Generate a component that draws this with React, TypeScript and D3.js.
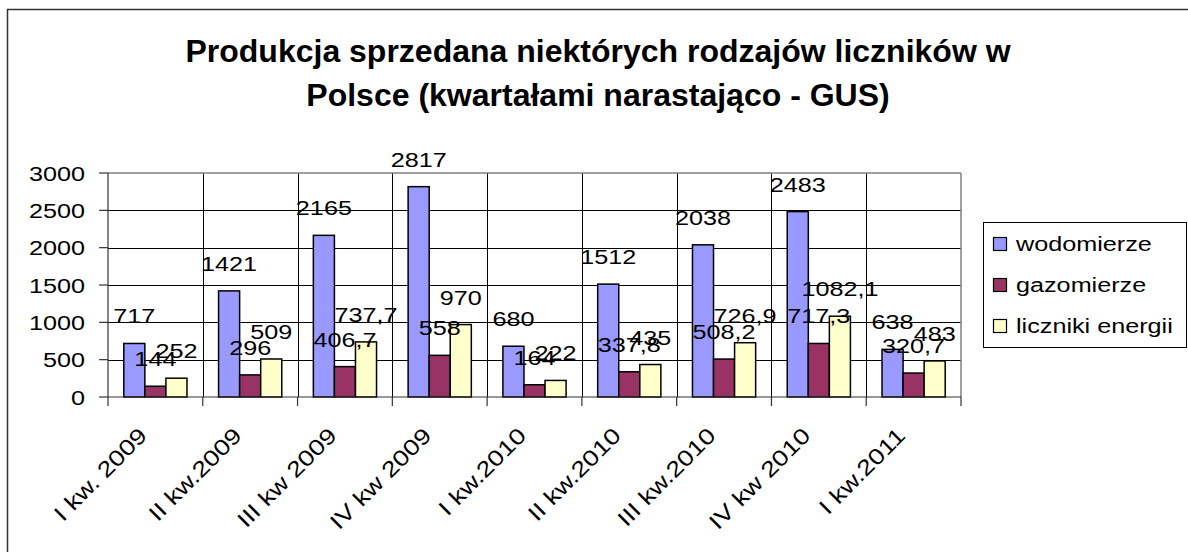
import React from 'react';
import * as d3 from 'd3';

const categories = [
  'I kw. 2009', 'II kw.2009', 'III kw 2009', 'IV kw 2009', 'I kw.2010',
  'II kw.2010', 'III kw.2010', 'IV kw 2010', 'I kw.2011',
];
const wodomierze = [717, 1421, 2165, 2817, 680, 1512, 2038, 2483, 638];
const gazomierze = [144, 296, 406.7, 558, 164, 337.8, 508.2, 717.3, 320.7];
const licznikiEnergii = [252, 509, 737.7, 970, 222, 435, 726.9, 1082.1, 483];
const seriesNames = ['wodomierze', 'gazomierze', 'liczniki energii'];
const seriesColors = ['#9999FF', '#993366', '#FFFFCC'];
const yTicks = [0, 500, 1000, 1500, 2000, 2500, 3000];
const titleLines = [
  'Produkcja sprzedana niektórych rodzajów liczników w',
  'Polsce (kwartałami narastająco - GUS)',
];

const FONT = '"Liberation Sans", Arial, sans-serif';
const SX = 1.2; // text in the original renders wide

const fmt = (v: number) => (Number.isInteger(v) ? String(v) : String(v).replace('.', ','));

export default function App() {
  const W = 1188;
  const H = 552;
  const left = 108, right = 961, top = 173, bottom = 397;

  const x = d3.scaleBand<string>().domain(categories).range([left, right]).padding(0);
  const inner = d3.scaleBand<string>()
    .domain(seriesNames)
    .range([0, x.bandwidth()])
    .paddingInner(0)
    .paddingOuter(0.75);
  const y = d3.scaleLinear().domain([0, 3000]).range([bottom, top]);

  const series = [wodomierze, gazomierze, licznikiEnergii];
  const boundaries = categories.map((c) => x(c)!).concat([right]);

  return (
    <svg
      width={W}
      height={H}
      style={{ position: 'absolute', left: 0, top: 0, display: 'block', background: '#fff' }}
      fontFamily={FONT}
    >
      {/* chart frame */}
      <rect x={7.5} y={9.5} width={1300} height={700} fill="#fff" stroke="#333" strokeWidth={1.5} />

      {titleLines.map((t, i) => (
        <text key={i} x={598} y={62 + i * 44} textAnchor="middle" fontSize={32} fontWeight="bold" fill="#000">
          {t}
        </text>
      ))}

      {/* gridlines */}
      <g stroke="#000" strokeWidth={1}>
        {yTicks.slice(1, -1).map((t) => (
          <line key={t} x1={left} x2={right} y1={Math.round(y(t)) + 0.5} y2={Math.round(y(t)) + 0.5} />
        ))}
        {boundaries.slice(1, -1).map((b, i) => (
          <line key={i} x1={Math.round(b) + 0.5} x2={Math.round(b) + 0.5} y1={top} y2={bottom} />
        ))}
      </g>
      {/* plot border top/right */}
      <g stroke="#808080" strokeWidth={1.5} fill="none">
        <line x1={left} x2={right} y1={top} y2={top} />
        <line x1={right} x2={right} y1={top} y2={bottom} />
      </g>

      {/* bars */}
      {series.map((vals, si) => (
        <g key={si} fill={seriesColors[si]} stroke="#000" strokeWidth={1.5}>
          {vals.map((v, ci) => {
            const bx = x(categories[ci])! + inner(seriesNames[si])!;
            return (
              <rect key={ci} x={bx} y={y(v)} width={inner.bandwidth()} height={bottom - y(v)} />
            );
          })}
        </g>
      ))}

      {/* axes */}
      <g stroke="#333" strokeWidth={1.2}>
        <line x1={left} x2={left} y1={top} y2={bottom} />
        <line x1={left} x2={right} y1={bottom} y2={bottom} />
        {yTicks.map((t) => (
          <line key={t} x1={left - 9} x2={left} y1={y(t)} y2={y(t)} />
        ))}
        {boundaries.map((b, i) => (
          <line key={i} x1={b} x2={b} y1={bottom} y2={bottom + 9} />
        ))}
      </g>
      {yTicks.map((t) => (
        <text key={t} transform={`translate(85,${y(t) + 7.5}) scale(${SX},1)`} textAnchor="end" fontSize={21} fill="#000">
          {t}
        </text>
      ))}
      {categories.map((c) => (
        <text
          key={c}
          transform={`translate(${x(c)! + x.bandwidth() / 2 - 7},437) rotate(-45) scale(1.22,1)`}
          textAnchor="end"
          fontSize={22}
          fill="#000"
        >
          {c}
        </text>
      ))}

      {/* value labels */}
      {series.map((vals, si) =>
        vals.map((v, ci) => {
          const cx = x(categories[ci])! + inner(seriesNames[si])! + inner.bandwidth() / 2;
          return (
            <text
              key={`${si}-${ci}`}
              transform={`translate(${cx},${y(v) - 20}) scale(${SX},1)`}
              textAnchor="middle"
              fontSize={21}
              fill="#000"
            >
              {fmt(v)}
            </text>
          );
        })
      )}

      {/* legend */}
      <rect x={983.5} y={222.5} width={203} height={125} fill="#fff" stroke="#000" strokeWidth={1} />
      {seriesNames.map((n, i) => (
        <g key={n}>
          <rect x={993.5} y={237.5 + i * 41} width={13} height={13} fill={seriesColors[i]} stroke="#000" strokeWidth={1.2} />
          <text transform={`translate(1016,${251 + i * 41}) scale(${SX},1)`} fontSize={21} fill="#000">
            {n}
          </text>
        </g>
      ))}
    </svg>
  );
}
